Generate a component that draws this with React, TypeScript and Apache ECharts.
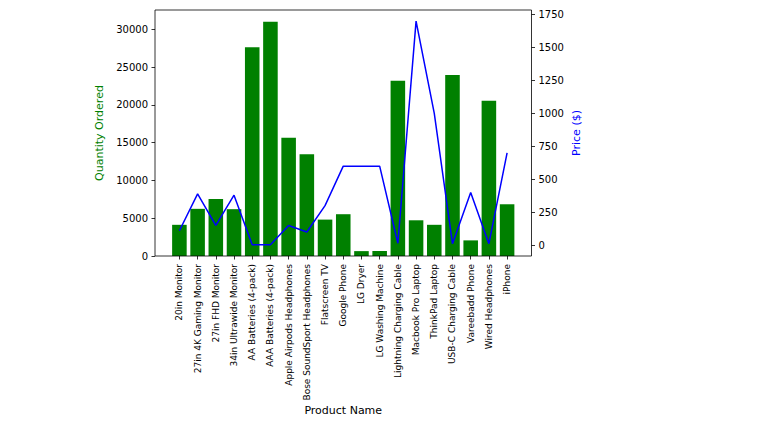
import React, { useEffect, useRef } from "react";
import * as echarts from "echarts";

const products = [
  "20in Monitor",
  "27in 4K Gaming Monitor",
  "27in FHD Monitor",
  "34in Ultrawide Monitor",
  "AA Batteries (4-pack)",
  "AAA Batteries (4-pack)",
  "Apple Airpods Headphones",
  "Bose SoundSport Headphones",
  "Flatscreen TV",
  "Google Phone",
  "LG Dryer",
  "LG Washing Machine",
  "Lightning Charging Cable",
  "Macbook Pro Laptop",
  "ThinkPad Laptop",
  "USB-C Charging Cable",
  "Vareebadd Phone",
  "Wired Headphones",
  "iPhone",
];

const quantityOrdered = [
  4129, 6244, 7550, 6199, 27635, 31017, 15661, 13457, 4819, 5532, 646, 666,
  23217, 4728, 4130, 23975, 2068, 20557, 6849,
];

const prices = [
  109.99, 389.99, 149.99, 379.99, 3.84, 2.99, 150, 99.99, 300, 600, 600, 600,
  14.95, 1700, 999.99, 11.95, 400, 11.99, 700,
];

const qtyTicks = [0, 5000, 10000, 15000, 20000, 25000, 30000];
const priceTicks = [0, 250, 500, 750, 1000, 1250, 1500, 1750];

const FONT = "DejaVu Sans";

export default function App() {
  const ref = useRef<HTMLDivElement>(null);

  useEffect(() => {
    if (!ref.current) return;
    const chart = echarts.init(ref.current, undefined, { renderer: "svg" });

    const frameL = 155;
    const frameR = 531.5;
    const frameT = 10;
    const frameB = 256;
    const gridL = 170.3;
    const gridR = 516.2;

    const qMax = Math.max(...quantityOrdered) * 1.05;
    const pMin = Math.min(...prices);
    const pMaxV = Math.max(...prices);
    const pPad = (pMaxV - pMin) * 0.05;

    const plain = (v: number) => String(Math.round(v));

    chart.setOption({
      animation: false,
      backgroundColor: "#ffffff",
      grid: {
        left: gridL,
        right: 769 - gridR,
        top: frameT,
        bottom: 437 - frameB,
        containLabel: false,
      },
      xAxis: {
        type: "category",
        data: products,
        boundaryGap: true,
        axisLine: { show: false },
        axisTick: {
          show: true,
          alignWithLabel: true,
          length: 3.5,
          lineStyle: { color: "#000", width: 0.8 },
        },
        axisLabel: {
          rotate: 90,
          interval: 0,
          fontSize: 9,
          fontFamily: FONT,
          color: "#000",
          margin: 8,
        },
        splitLine: { show: false },
      },
      yAxis: [
        {
          type: "value",
          position: "left",
          offset: gridL - frameL,
          min: 0,
          max: qMax,
          axisLine: { show: false },
          axisTick: {
            show: true,
            length: 3.5,
            customValues: qtyTicks,
            lineStyle: { color: "#000", width: 0.8 },
          },
          axisLabel: {
            customValues: qtyTicks,
            formatter: plain,
            fontSize: 10,
            fontFamily: FONT,
            color: "#000",
            margin: 7,
          },
          splitLine: { show: false },
        },
        {
          type: "value",
          position: "right",
          offset: frameR - gridR,
          min: pMin - pPad,
          max: pMaxV + pPad,
          axisLine: { show: false },
          axisTick: {
            show: true,
            length: 3.5,
            customValues: priceTicks,
            lineStyle: { color: "#000", width: 0.8 },
          },
          axisLabel: {
            customValues: priceTicks,
            formatter: plain,
            fontSize: 10,
            fontFamily: FONT,
            color: "#000",
            margin: 7,
          },
          splitLine: { show: false },
        },
      ],
      series: [
        {
          type: "bar",
          data: quantityOrdered,
          xAxisIndex: 0,
          yAxisIndex: 0,
          barWidth: "80%",
          itemStyle: { color: "#008000" },
          z: 2,
        },
        {
          type: "line",
          data: prices,
          xAxisIndex: 0,
          yAxisIndex: 1,
          symbol: "none",
          lineStyle: { color: "#0000ff", width: 1.5 },
          z: 3,
        },
      ],
      graphic: [
        {
          type: "rect",
          shape: {
            x: frameL,
            y: frameT,
            width: frameR - frameL,
            height: frameB - frameT,
          },
          style: { fill: "none", stroke: "#000", lineWidth: 0.8 },
          z: 10,
          silent: true,
        },
        {
          type: "text",
          x: (frameL + frameR) / 2,
          y: 410.5,
          style: {
            text: "Product Name",
            fontSize: 11,
            fontFamily: FONT,
            fill: "#000",
            align: "center",
            verticalAlign: "middle",
          },
        },
        {
          type: "text",
          x: 99,
          y: (frameT + frameB) / 2,
          rotation: Math.PI / 2,
          style: {
            text: "Quantity Ordered",
            fontSize: 11,
            fontFamily: FONT,
            fill: "#008000",
            align: "center",
            verticalAlign: "middle",
          },
        },
        {
          type: "text",
          x: 576,
          y: (frameT + frameB) / 2,
          rotation: Math.PI / 2,
          style: {
            text: "Price ($)",
            fontSize: 11,
            fontFamily: FONT,
            fill: "#0000ff",
            align: "center",
            verticalAlign: "middle",
          },
        },
      ],
    });

    return () => {
      chart.dispose();
    };
  }, []);

  return (
    <div
      ref={ref}
      style={{
        position: "fixed",
        left: 0,
        top: 0,
        width: 769,
        height: 437,
        background: "#fff",
      }}
    />
  );
}
